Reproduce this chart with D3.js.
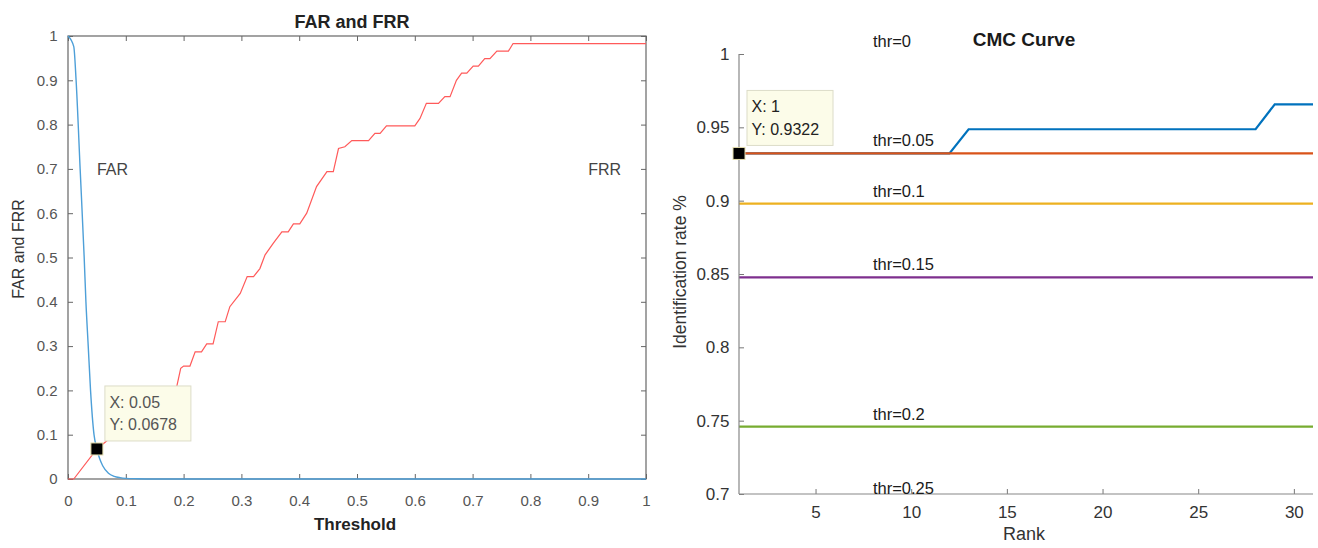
<!DOCTYPE html>
<html>
<head>
<meta charset="utf-8">
<script src="https://cdn.jsdelivr.net/npm/d3@7"></script>
<style>
  body { margin: 0; background: #fff; }
  text { font-family: "Liberation Sans", Arial, sans-serif; }
</style>
</head>
<body>
<svg id="chart" width="1318" height="548"></svg>
<script>
// ---- FAR / FRR data ----
var farThreshold = [0, 0.01, 0.014, 0.021, 0.028, 0.031, 0.035, 0.039, 0.045, 0.05, 0.055, 0.06, 0.07, 0.08, 0.09, 0.1, 0.12, 0.15, 1]
var farValue     = [1, 0.976, 0.9, 0.7, 0.5, 0.4, 0.3, 0.2, 0.1, 0.0678, 0.045, 0.03, 0.013, 0.006, 0.003, 0.0015, 0.0006, 0, 0]

var frrThreshold = [0, 0.01, 0.05, 0.08, 0.12, 0.15, 0.188, 0.195, 0.2, 0.211, 0.22, 0.231, 0.24, 0.251, 0.26, 0.272, 0.28, 0.298, 0.31, 0.321,
                    0.332, 0.341, 0.355, 0.37, 0.381, 0.39, 0.401, 0.413, 0.43, 0.448, 0.459, 0.468, 0.479, 0.491, 0.52, 0.531, 0.54, 0.551,
                    0.6, 0.609, 0.62, 0.641, 0.652, 0.661, 0.672, 0.681, 0.69, 0.701, 0.71, 0.721, 0.73, 0.742, 0.762, 0.77, 1]
var frrValue     = [0, 0, 0.0678, 0.1, 0.14, 0.17, 0.208, 0.25, 0.255, 0.255, 0.287, 0.287, 0.305, 0.305, 0.355, 0.355, 0.389, 0.419, 0.457, 0.457,
                    0.475, 0.506, 0.532, 0.558, 0.558, 0.576, 0.576, 0.6, 0.66, 0.694, 0.694, 0.746, 0.75, 0.764, 0.764, 0.78, 0.78, 0.797,
                    0.797, 0.814, 0.848, 0.848, 0.863, 0.863, 0.9, 0.916, 0.916, 0.932, 0.932, 0.949, 0.949, 0.966, 0.966, 0.983, 0.983]

var leftTicks = [0, 0.1, 0.2, 0.3, 0.4, 0.5, 0.6, 0.7, 0.8, 0.9, 1]
var farTip = {x: 0.05, y: 0.0678}

// ---- CMC data ----
var ranks = [1,2,3,4,5,6,7,8,9,10,11,12,13,14,15,16,17,18,19,20,21,22,23,24,25,26,27,28,29,30,31]
var cmcThr0    = [0.9322,0.9322,0.9322,0.9322,0.9322,0.9322,0.9322,0.9322,0.9322,0.9322,0.9322,0.9322,
                  0.9487,0.9487,0.9487,0.9487,0.9487,0.9487,0.9487,0.9487,0.9487,0.9487,0.9487,0.9487,0.9487,0.9487,0.9487,0.9487,
                  0.9657,0.9657,0.9657]
var cmcThr005  = [0.9322,0.9322,0.9322,0.9322,0.9322,0.9322,0.9322,0.9322,0.9322,0.9322,0.9322,0.9322,0.9322,0.9322,0.9322,0.9322,
                  0.9322,0.9322,0.9322,0.9322,0.9322,0.9322,0.9322,0.9322,0.9322,0.9322,0.9322,0.9322,0.9322,0.9322,0.9322]
var cmcThr01   = [0.898,0.898,0.898,0.898,0.898,0.898,0.898,0.898,0.898,0.898,0.898,0.898,0.898,0.898,0.898,0.898,
                  0.898,0.898,0.898,0.898,0.898,0.898,0.898,0.898,0.898,0.898,0.898,0.898,0.898,0.898,0.898]
var cmcThr015  = [0.8477,0.8477,0.8477,0.8477,0.8477,0.8477,0.8477,0.8477,0.8477,0.8477,0.8477,0.8477,0.8477,0.8477,0.8477,0.8477,
                  0.8477,0.8477,0.8477,0.8477,0.8477,0.8477,0.8477,0.8477,0.8477,0.8477,0.8477,0.8477,0.8477,0.8477,0.8477]
var cmcThr02   = [0.7459,0.7459,0.7459,0.7459,0.7459,0.7459,0.7459,0.7459,0.7459,0.7459,0.7459,0.7459,0.7459,0.7459,0.7459,0.7459,
                  0.7459,0.7459,0.7459,0.7459,0.7459,0.7459,0.7459,0.7459,0.7459,0.7459,0.7459,0.7459,0.7459,0.7459,0.7459]
var cmcThr025  = [0.695,0.695,0.695,0.695,0.695,0.695,0.695,0.695,0.695,0.695,0.695,0.695,0.695,0.695,0.695,0.695,
                  0.695,0.695,0.695,0.695,0.695,0.695,0.695,0.695,0.695,0.695,0.695,0.695,0.695,0.695,0.695]
var cmcSeries  = [cmcThr0, cmcThr005, cmcThr01, cmcThr015, cmcThr02, cmcThr025]
var cmcLabels  = ["thr=0", "thr=0.05", "thr=0.1", "thr=0.15", "thr=0.2", "thr=0.25"]
var labelValue = [1.0, 0.9322, 0.898, 0.8477, 0.7459, 0.695]
var labelRank  = 8
var cmcColors  = ["#0072BD", "#D95319", "#EDB120", "#7E2F8E", "#77AC30", "#4DBEEE"]
var rankTicks  = [5, 10, 15, 20, 25, 30]
var rateTicks  = [0.7, 0.75, 0.8, 0.85, 0.9, 0.95, 1]
var cmcTip = {x: 1, y: 0.9322}

var svg = d3.select("#chart")

// ================= left: FAR and FRR =================
var left = {x0: 68, x1: 646, y0: 36, y1: 479}
var xL = d3.scaleLinear().domain([0, 1]).range([left.x0, left.x1])
var yL = d3.scaleLinear().domain([0, 1]).range([left.y1, left.y0])

var gL = svg.append("g")

function styleAxis(g, color, labelColor, size) {
  g.select(".domain").remove()
  g.selectAll(".tick line").attr("stroke", color)
  g.selectAll(".tick text").attr("fill", labelColor).style("font-size", size)
}

gL.append("g").attr("transform", `translate(0,${left.y1})`)
  .call(d3.axisBottom(xL).tickValues(leftTicks).tickFormat(d3.format("~g")).tickSizeInner(-5).tickSizeOuter(0).tickPadding(16))
  .call(styleAxis, "#666", "#555", "15px")
gL.append("g").attr("transform", `translate(0,${left.y0})`)
  .call(d3.axisTop(xL).tickValues(leftTicks).tickFormat("").tickSizeInner(-5).tickSizeOuter(0))
  .call(styleAxis, "#666", "#555", "15px")
gL.append("g").attr("transform", `translate(${left.x0},0)`)
  .call(d3.axisLeft(yL).tickValues(leftTicks).tickFormat(d3.format("~g")).tickSizeInner(-5).tickSizeOuter(0).tickPadding(10.5))
  .call(styleAxis, "#666", "#555", "15px")
gL.append("g").attr("transform", `translate(${left.x1},0)`)
  .call(d3.axisRight(yL).tickValues(leftTicks).tickFormat("").tickSizeInner(-5).tickSizeOuter(0))
  .call(styleAxis, "#666", "#555", "15px")

gL.append("rect")
  .attr("x", left.x0).attr("y", left.y0)
  .attr("width", left.x1 - left.x0).attr("height", left.y1 - left.y0)
  .attr("fill", "none").attr("stroke", "#666").attr("stroke-width", 1.2)

var frrLine = d3.line().x(d => xL(d[0])).y(d => yL(d[1]))
gL.append("path")
  .datum(d3.zip(frrThreshold, frrValue))
  .attr("d", frrLine)
  .attr("fill", "none").attr("stroke", "#ff5a5a").attr("stroke-width", 1.2)

var farLine = d3.line().x(d => xL(d[0])).y(d => yL(d[1])).curve(d3.curveMonotoneX)
gL.append("path")
  .datum(d3.zip(farThreshold, farValue))
  .attr("d", farLine)
  .attr("fill", "none").attr("stroke", "#4d9fd8").attr("stroke-width", 1.4)

gL.append("text").text("FAR").attr("x", xL(0.05)).attr("y", yL(0.7)).attr("dy", "0.35em")
  .attr("fill", "#444").style("font-size", "16px")
gL.append("text").text("FRR").attr("x", xL(0.9)).attr("y", yL(0.7)).attr("dy", "0.35em")
  .attr("fill", "#444").style("font-size", "16px")

gL.append("text").text("FAR and FRR")
  .attr("x", 352).attr("y", 28).attr("text-anchor", "middle")
  .style("font-size", "18px").style("font-weight", "bold").attr("fill", "#222")
gL.append("text").text("Threshold")
  .attr("x", 355).attr("y", 530).attr("text-anchor", "middle")
  .style("font-size", "17px").style("font-weight", "bold").attr("fill", "#222")
gL.append("text").text("FAR and FRR")
  .attr("transform", "translate(24,249) rotate(-90)").attr("text-anchor", "middle")
  .style("font-size", "16px").attr("fill", "#333")

// data tip
function dataTip(g, cx, cy, lines, color) {
  var bx = cx + 8, by = cy - 8 - 55
  g.append("rect").attr("x", bx).attr("y", by).attr("width", 86).attr("height", 55)
    .attr("fill", "#fcfce9").attr("stroke", "#dcdcc8").attr("stroke-width", 1)
  lines.forEach(function(t, i) {
    g.append("text").text(t).attr("x", bx + 4.5).attr("y", by + 22 + i * 22.5)
      .attr("fill", color).style("font-size", "16px")
  })
  g.append("rect").attr("x", cx - 6).attr("y", cy - 6).attr("width", 12).attr("height", 12)
    .attr("fill", "#000").attr("stroke", "#e6dfae").attr("stroke-width", 1)
}
dataTip(gL, xL(farTip.x), yL(farTip.y), ["X: " + farTip.x, "Y: " + farTip.y], "#555")

// ================= right: CMC Curve =================
var right = {x0: 739, x1: 1313, y0: 54, y1: 494}
var xR = d3.scaleLinear().domain([1, 31]).range([right.x0, right.x1])
var yR = d3.scaleLinear().domain([0.7, 1]).range([right.y1, right.y0])

var gR = svg.append("g")

svg.append("defs").append("clipPath").attr("id", "cmc-clip")
  .append("rect").attr("x", right.x0).attr("y", right.y0)
  .attr("width", right.x1 - right.x0).attr("height", right.y1 - right.y0)

var cmcLine = d3.line().x((d, i) => xR(ranks[i])).y(d => yR(d))
gR.append("g").attr("clip-path", "url(#cmc-clip)")
  .selectAll("path").data(cmcSeries).join("path")
  .attr("d", cmcLine)
  .attr("fill", "none")
  .attr("stroke", (d, i) => cmcColors[i])
  .attr("stroke-width", 2.2)

gR.append("g").attr("transform", `translate(0,${right.y1})`)
  .call(d3.axisBottom(xR).tickValues(rankTicks).tickSizeInner(-5).tickSizeOuter(0).tickPadding(12))
  .call(styleAxis, "#777", "#333", "17px")
gR.append("g").attr("transform", `translate(${right.x0},0)`)
  .call(d3.axisLeft(yR).tickValues(rateTicks).tickFormat(d3.format("~g")).tickSizeInner(-5).tickSizeOuter(0).tickPadding(9.5))
  .call(styleAxis, "#777", "#333", "17px")

gR.append("line").attr("x1", right.x0).attr("x2", right.x1).attr("y1", right.y1).attr("y2", right.y1)
  .attr("stroke", "#888").attr("stroke-width", 1.2)
gR.append("line").attr("x1", right.x0).attr("x2", right.x0).attr("y1", right.y0).attr("y2", right.y1)
  .attr("stroke", "#888").attr("stroke-width", 1.2)

gR.selectAll(".thr-label").data(cmcLabels).join("text")
  .attr("class", "thr-label")
  .text(d => d)
  .attr("x", xR(labelRank))
  .attr("y", (d, i) => yR(labelValue[i]) - 7)
  .attr("fill", "#1a1a1a")
  .style("font-size", "16.5px")

gR.append("text").text("CMC Curve")
  .attr("x", 1024).attr("y", 46).attr("text-anchor", "middle")
  .style("font-size", "19px").style("font-weight", "bold").attr("fill", "#1a1a1a")
gR.append("text").text("Rank")
  .attr("x", 1024).attr("y", 540).attr("text-anchor", "middle")
  .style("font-size", "18px").attr("fill", "#333")
gR.append("text").text("Identification rate %")
  .attr("transform", "translate(686,272) rotate(-90)").attr("text-anchor", "middle")
  .style("font-size", "17.5px").attr("fill", "#333")

dataTip(gR, xR(cmcTip.x), yR(cmcTip.y), ["X: " + cmcTip.x, "Y: " + cmcTip.y], "#222")
</script>
</body>
</html>
